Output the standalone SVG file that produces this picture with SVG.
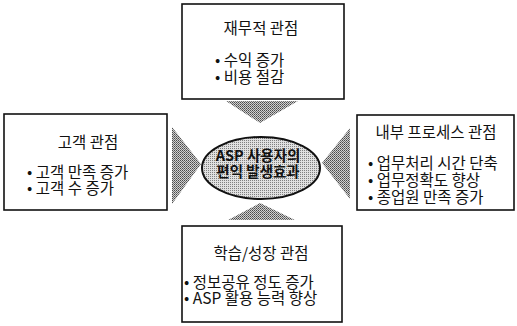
<svg xmlns="http://www.w3.org/2000/svg" width="517" height="326" viewBox="0 0 517 326">
<defs>
<pattern id="dither" width="2" height="2" patternUnits="userSpaceOnUse">
<rect width="2" height="2" fill="#d0d0d0"/>
<rect width="1" height="1" fill="#4a4a4a"/>
<rect x="1" y="1" width="1" height="1" fill="#707070"/>
</pattern>
<pattern id="dither2" width="2" height="2" patternUnits="userSpaceOnUse">
<rect width="2" height="2" fill="#e0e0e0"/>
<rect width="1" height="1" fill="#808080"/>
</pattern>
</defs>
<style>
.box{fill:#fff;stroke:#111;stroke-width:1.6}
.arrow{fill:url(#dither);stroke:none}
.t{font-family:"Noto Sans CJK KR","Noto Sans",sans-serif;font-size:15.5px;fill:#111}
.title{text-anchor:middle}
.c{font-family:"Noto Sans CJK KR","Noto Sans",sans-serif;font-size:14.5px;font-weight:bold;fill:#111;text-anchor:middle}
</style>
<rect width="517" height="326" fill="#fff"/>
<g id="connectors">
<polygon class="arrow" points="226,101 298,101 260,123"/>
<polygon class="arrow" points="228,220 295,220 260,203"/>
<polygon class="arrow" points="172,127 172,204 201,164"/>
<polygon class="arrow" points="350,128 350,199 322,163"/>
</g>
<g id="center">
<ellipse cx="261" cy="168" rx="59" ry="31" fill="url(#dither2)" stroke="#111" stroke-width="2"/>
<text class="c" x="258" y="161">ASP 사용자의</text>
<text class="c" x="258" y="177">편익 발생효과</text>
</g>
<g id="finance">
<rect class="box" x="182" y="4" width="162" height="95"/>
<text class="t title" x="261" y="34">재무적 관점</text>
<text class="t" x="215" y="66">• 수익 증가</text>
<text class="t" x="215" y="83">• 비용 절감</text>
</g>
<g id="customer">
<rect class="box" x="4" y="114" width="163" height="96"/>
<text class="t title" x="88" y="148">고객 관점</text>
<text class="t" x="27" y="178">• 고객 만족 증가</text>
<text class="t" x="27" y="194">• 고객 수 증가</text>
</g>
<g id="internal">
<rect class="box" x="357" y="115" width="157" height="95"/>
<text class="t title" x="436" y="138">내부 프로세스 관점</text>
<text class="t" x="368" y="169">• 업무처리 시간 단축</text>
<text class="t" x="368" y="186">• 업무정확도 향상</text>
<text class="t" x="368" y="203">• 종업원 만족 증가</text>
</g>
<g id="learning">
<rect class="box" x="182" y="226" width="160" height="96"/>
<text class="t title" x="261" y="259">학습/성장 관점</text>
<text class="t" x="184" y="288">• 정보공유 정도 증가</text>
<text class="t" x="184" y="304">• ASP 활용 능력 향상</text>
</g>
</svg>
